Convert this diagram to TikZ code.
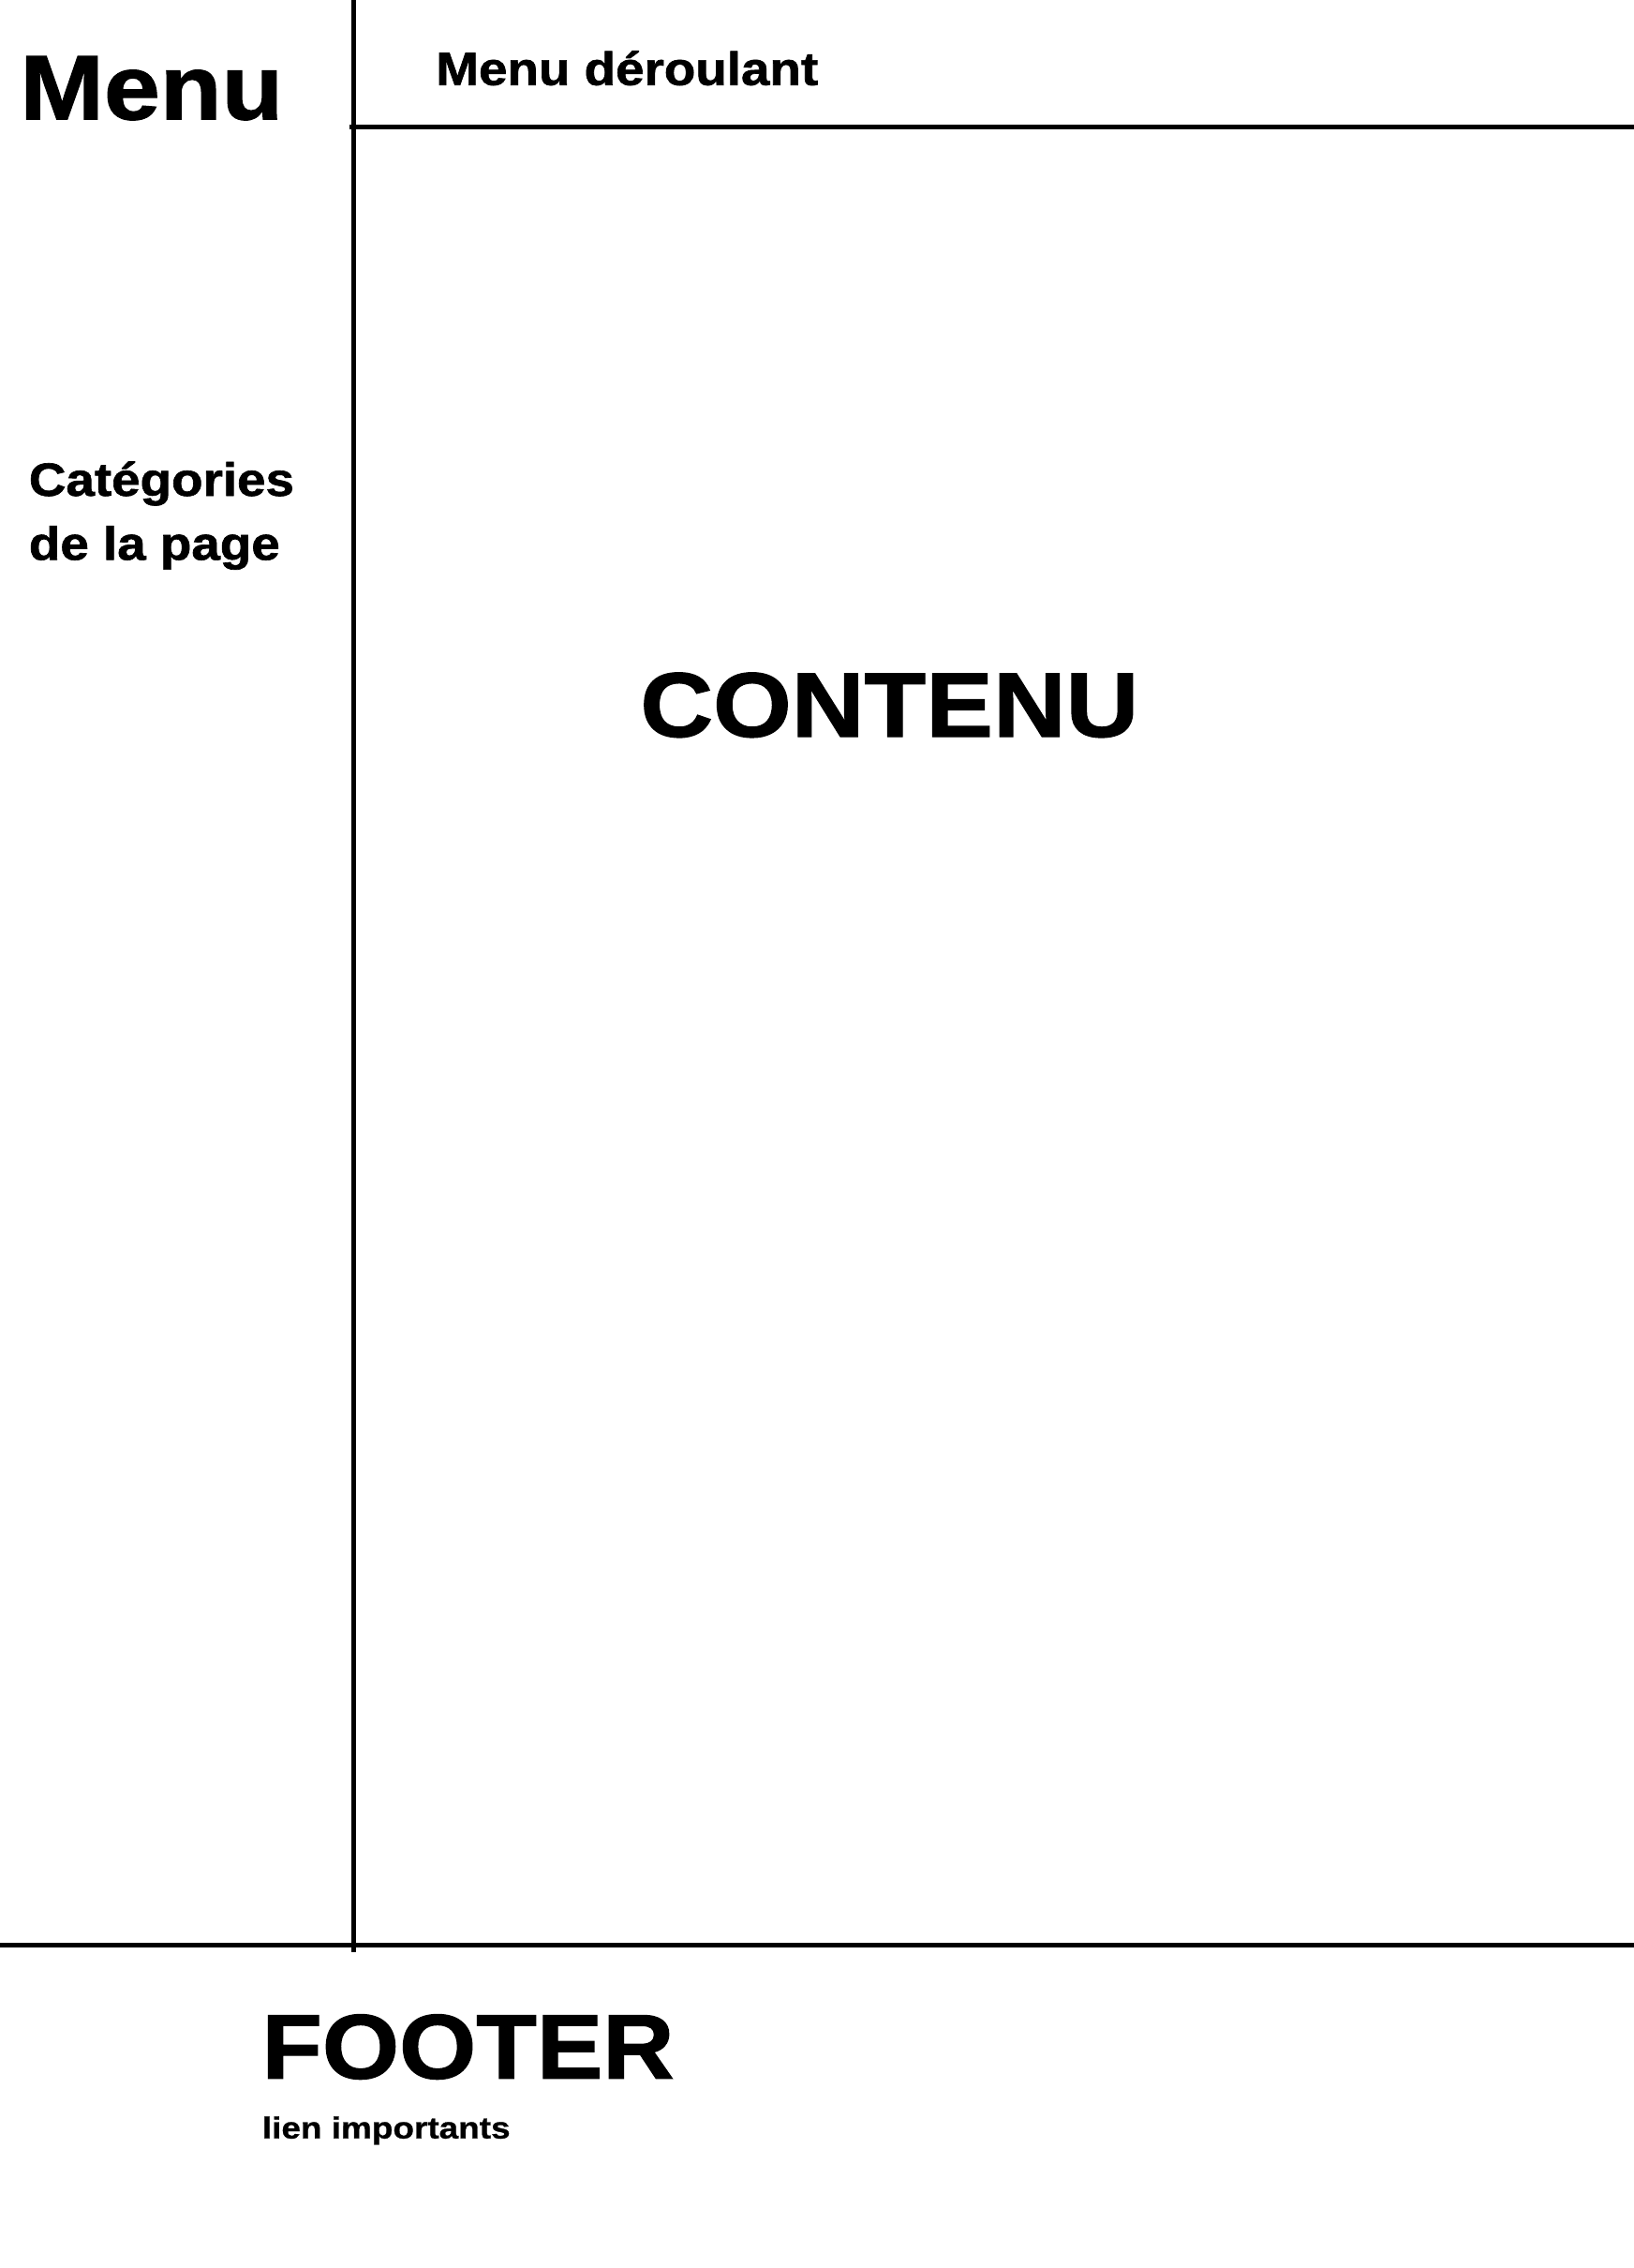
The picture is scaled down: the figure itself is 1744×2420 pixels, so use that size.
\documentclass[tikz,border=0pt]{standalone}
\usepackage{fontspec}
\newfontfamily\hf[FakeStretch=1.08,FakeBold=1.3,BoldFeatures={FakeStretch=1.08,FakeBold=1.3}]{Liberation Sans}
\newfontfamily\hfw[FakeStretch=1.1,FakeBold=1.3,BoldFeatures={FakeStretch=1.1,FakeBold=1.3}]{Liberation Sans}
\newfontfamily\hfs[FakeStretch=1.14,FakeBold=0.8,BoldFeatures={FakeStretch=1.14,FakeBold=0.8}]{Liberation Sans}
\tikzset{
  rule/.style={line width=2.4pt, draw=black},
  lbl/.style={inner sep=0pt, anchor=base west},
  huge/.style={lbl, font=\hf\bfseries\fontsize{48.9}{58}\selectfont},
  hugew/.style={lbl, font=\hfw\bfseries\fontsize{48.9}{58}\selectfont},
  mid/.style={lbl, font=\hfw\bfseries\fontsize{24.9}{30}\selectfont},
  small/.style={lbl, font=\hfs\bfseries\fontsize{16.2}{19}\selectfont}
}
\begin{document}
\begin{tikzpicture}[x=0.5pt,y=-0.5pt]
\useasboundingbox (0,0) rectangle (1744,2420);
\fill[white] (0,0) rectangle (1744,2420);
% frame lines
\coordinate (vtop) at (377.7,0);
\coordinate (vbot) at (377.7,2083);
\coordinate (hleft) at (373,135.5);
\coordinate (hright) at (1744,135.5);
\coordinate (fleft) at (0,2075.2);
\coordinate (fright) at (1744,2075.2);
\draw[rule] (vtop) -- (vbot);
\draw[rule] (hleft) -- (hright);
\draw[rule] (fleft) -- (fright);
% texts
\node[hugew] (menu) at (21,127.3) {Menu};
\node[mid] (deroul) at (465,90.7) {Menu déroulant};
\node[mid] (cat1) at (30.5,529) {Catégories};
\node[mid] (cat2) at (30.5,597.3) {de la page};
\node[hugew] (contenu) at (683,786) {CONTENU};
\node[huge] (footer) at (279,2217.7) {FOOTER};
\node[small] (liens) at (279.5,2281.7) {lien importants};
\end{tikzpicture}
\end{document}
